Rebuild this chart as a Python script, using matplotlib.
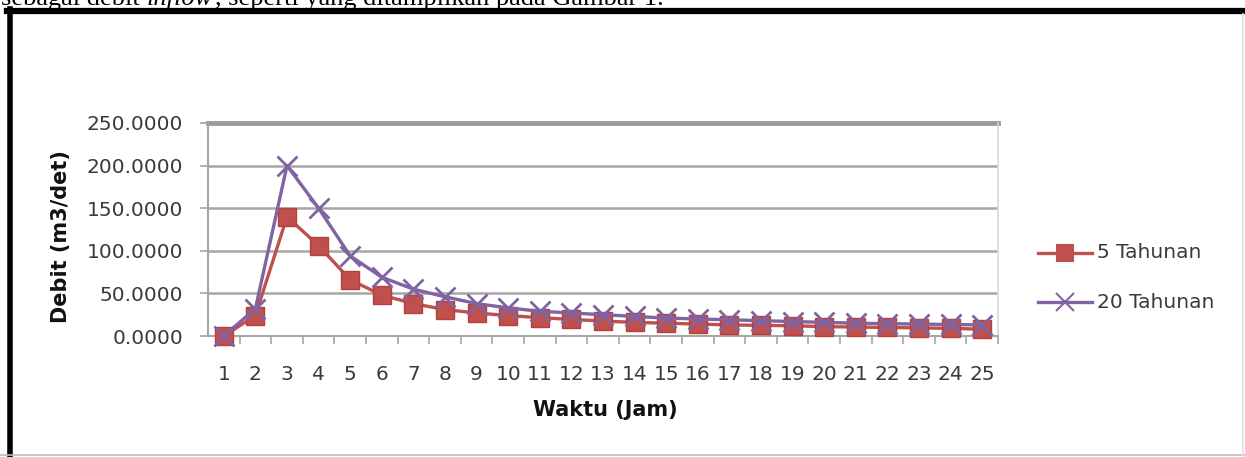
#!/usr/bin/env python3
# -*- coding: utf-8 -*-
"""Hidrograf debit inflow 5 tahunan dan 20 tahunan."""

import matplotlib
matplotlib.use("Agg")
import matplotlib.pyplot as plt
from matplotlib.lines import Line2D

# 数据
waktu = list(range(1, 26))
debit_5 = [0.0, 24.0, 140.0, 106.0, 66.0, 48.0, 38.0, 31.0, 27.0, 24.0,
           21.5, 19.5, 17.5, 16.0, 15.0, 14.0, 13.0, 12.5, 12.0, 11.0,
           10.5, 10.0, 9.5, 9.0, 8.0]
debit_20 = [0.0, 32.0, 200.0, 150.0, 94.0, 69.0, 55.0, 46.0, 38.0, 33.0,
            29.0, 27.0, 25.0, 23.0, 21.0, 20.0, 19.0, 18.0, 17.0, 16.0,
            15.0, 14.5, 14.0, 13.5, 13.0]
y_ticks = [0, 50, 100, 150, 200, 250]
series_names = ["5 Tahunan", "20 Tahunan"]

RED = "#C0504D"
PURPLE = "#8064A2"
GRID = "#A6A6A6"
LABEL = "#3A3A3A"
W, H = 1245, 457

plt.rcParams["font.family"] = ["DejaVu Sans"]

fig = plt.figure(figsize=(W / 100, H / 100), dpi=100)


def px(x, y):
    """像素坐标 -> figure 坐标"""
    return x / W, 1 - y / H


# 外框
fig.add_artist(Line2D([7 / W, 1], [1 - 11 / H] * 2, color="black", lw=4.5))
fig.add_artist(Line2D([9.5 / W] * 2, [0, 1 - 9 / H], color="black", lw=4))
fig.add_artist(Line2D([0, 1], [1 - 455 / H] * 2, color="#BBBBBB", lw=1.2))
fig.add_artist(Line2D([1243 / W] * 2, [0, 1 - 14 / H], color="#E4E4E4", lw=1.2))

# 上方被截断的正文
fig.canvas.draw()
renderer = fig.canvas.get_renderer()
x0 = 1
for part, style in [("sebagai debit ", "normal"), ("inflow", "italic"),
                    (", seperti yang ditampilkan pada Gambar 1.", "normal")]:
    t = fig.text(x0 / W, 1 - 4.5 / H, part, family="Liberation Serif",
                 style=style, fontsize=19, va="baseline", ha="left")
    bb = t.get_window_extent(renderer)
    x0 = bb.x1 + (2 if style == "italic" else 0)

# 绘图区
l, b = px(208, 336)
r, t_ = px(998, 123)
ax = fig.add_axes([l, b, r - l, t_ - b])
ax.set_xlim(0.5, 25.5)
ax.set_ylim(0, 250)

for v in y_ticks[1:-1]:
    ax.axhline(v, color=GRID, lw=1.8, zorder=1)
ax.axhline(250, color="#9A9A9A", lw=3.5, zorder=1, clip_on=False)

ax.plot(waktu, debit_5, color=RED, lw=2.4, marker="s", markersize=13,
        markerfacecolor=RED, markeredgecolor="#B5403D", label=series_names[0],
        zorder=3, clip_on=False)
ax.plot(waktu, debit_20, color=PURPLE, lw=2.4, marker="x", markersize=14,
        markeredgewidth=2.0, label=series_names[1], zorder=4, clip_on=False)

ax.spines["top"].set_visible(False)
ax.spines["left"].set_color(GRID)
ax.spines["left"].set_linewidth(1.5)
ax.spines["bottom"].set_color(GRID)
ax.spines["bottom"].set_linewidth(1.5)
ax.spines["right"].set_color("#D9D9D9")
ax.spines["right"].set_linewidth(1.2)

ax.set_yticks(y_ticks)
ax.set_yticklabels([f"{v:.4f}" for v in y_ticks])
ax.set_xticks(waktu)
ax.set_xticklabels([str(w) for w in waktu])
ax.set_xticks([w + 0.5 for w in waktu], minor=True)
ax.tick_params(axis="x", which="major", length=0, pad=21, labelsize=14.5,
               labelcolor=LABEL)
ax.tick_params(axis="x", which="minor", length=6, width=1.2, color=GRID)
ax.tick_params(axis="y", length=6, width=1.2, color=GRID, pad=12,
               labelsize=14.5, labelcolor=LABEL)

fig.text(61 / W, 1 - 237 / H, "Debit (m3/det)", rotation=90, fontsize=15,
         fontweight="bold", ha="center", va="center", color="#111111")
fig.text(605 / W, 1 - 410 / H, "Waktu (Jam)", fontsize=15,
         fontweight="bold", ha="center", va="center", color="#111111")

# 图例
for i, (name, col, mk, ms) in enumerate([(series_names[0], RED, "s", 11),
                                         (series_names[1], PURPLE, "x", 13)]):
    y = 1 - (253 + 49 * i) / H
    fig.add_artist(Line2D([1038 / W, 1092 / W], [y, y], color=col, lw=2.4))
    fig.add_artist(Line2D([1065 / W], [y], color=col, marker=mk, markersize=ms,
                          markeredgewidth=1.5, linestyle="none"))
    fig.text(1097 / W, y, name, fontsize=14.5, va="center", ha="left",
             color=LABEL)

fig.savefig("out.png", dpi=100)
